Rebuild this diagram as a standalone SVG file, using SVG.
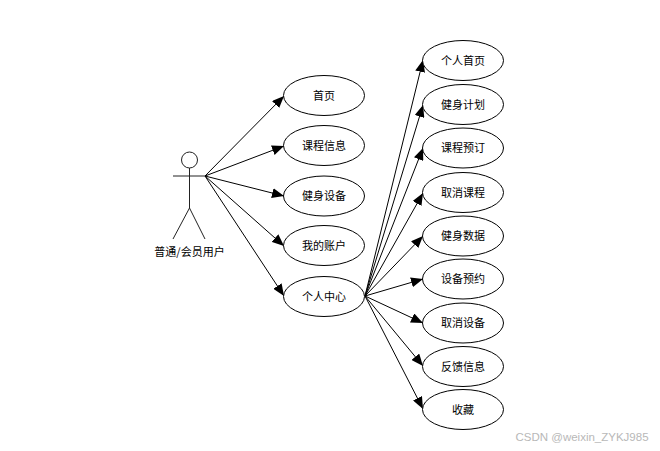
<svg xmlns="http://www.w3.org/2000/svg" width="660" height="451" viewBox="0 0 660 451">
<style>
text{font-family:"Noto Sans CJK SC","Liberation Sans",sans-serif;font-size:11px;fill:#000;text-anchor:middle}
.u{fill:#fff;stroke:#000;stroke-width:1}
.c line{stroke:#000;stroke-width:1;marker-end:url(#a)}
.s{fill:none;stroke:#222;stroke-width:1}
</style>
<defs><marker id="a" markerUnits="userSpaceOnUse" markerWidth="12" markerHeight="10" refX="12" refY="5" orient="auto"><path d="M0 0L12 5L0 10Z" fill="#000"/></marker></defs>
<rect width="660" height="451" fill="#fff"/>
<g id="connectors" class="c">
<line x1="205" y1="176" x2="284" y2="96"/>
<line x1="205" y1="176" x2="284" y2="146"/>
<line x1="205" y1="176" x2="284" y2="196"/>
<line x1="205" y1="176" x2="284" y2="246"/>
<line x1="205" y1="176" x2="284" y2="296"/>
<line x1="365" y1="296" x2="423" y2="60"/>
<line x1="365" y1="296" x2="423" y2="105"/>
<line x1="365" y1="296" x2="423" y2="148"/>
<line x1="365" y1="296" x2="423" y2="193"/>
<line x1="365" y1="296" x2="423" y2="236"/>
<line x1="365" y1="296" x2="423" y2="279"/>
<line x1="365" y1="296" x2="423" y2="323"/>
<line x1="365" y1="296" x2="423" y2="366"/>
<line x1="365" y1="296" x2="423" y2="409"/>
</g>
<g id="actor"><circle class="s" cx="189.500" cy="160" r="8"/><path class="s" d="M173 176H205M189.500 168V208L173 239M189.500 208L205 239"/><text x="189.500" y="256">普通/会员用户</text></g>
<g id="n1"><ellipse class="u" cx="324" cy="95.500" rx="40.500" ry="20"/><text x="324" y="99.500">首页</text></g>
<g id="n2"><ellipse class="u" cx="324" cy="145.500" rx="40.500" ry="20"/><text x="324" y="149.500">课程信息</text></g>
<g id="n3"><ellipse class="u" cx="324" cy="196" rx="40.500" ry="20"/><text x="324" y="200">健身设备</text></g>
<g id="n4"><ellipse class="u" cx="324" cy="245.500" rx="40.500" ry="20"/><text x="324" y="249.500">我的账户</text></g>
<g id="n5"><ellipse class="u" cx="324" cy="296.500" rx="40.500" ry="20"/><text x="324" y="300.500">个人中心</text></g>
<g id="m1"><ellipse class="u" cx="463" cy="60.500" rx="40.500" ry="20"/><text x="463" y="64.500">个人首页</text></g>
<g id="m2"><ellipse class="u" cx="463" cy="104.500" rx="40.500" ry="20"/><text x="463" y="108.500">健身计划</text></g>
<g id="m3"><ellipse class="u" cx="463" cy="148" rx="40.500" ry="20"/><text x="463" y="152">课程预订</text></g>
<g id="m4"><ellipse class="u" cx="463" cy="192.500" rx="40.500" ry="20"/><text x="463" y="196.500">取消课程</text></g>
<g id="m5"><ellipse class="u" cx="463" cy="236" rx="40.500" ry="20"/><text x="463" y="240">健身数据</text></g>
<g id="m6"><ellipse class="u" cx="463" cy="279" rx="40.500" ry="20"/><text x="463" y="283">设备预约</text></g>
<g id="m7"><ellipse class="u" cx="463" cy="323" rx="40.500" ry="20"/><text x="463" y="327">取消设备</text></g>
<g id="m8"><ellipse class="u" cx="463" cy="366.500" rx="40.500" ry="20"/><text x="463" y="370.500">反馈信息</text></g>
<g id="m9"><ellipse class="u" cx="463" cy="409.500" rx="40.500" ry="20"/><text x="463" y="413.500">收藏</text></g>
<text x="582" y="441" style="font-family:'Liberation Sans',sans-serif;font-size:11.500px;fill:#b8b8b8">CSDN @weixin_ZYKJ985</text>
</svg>
